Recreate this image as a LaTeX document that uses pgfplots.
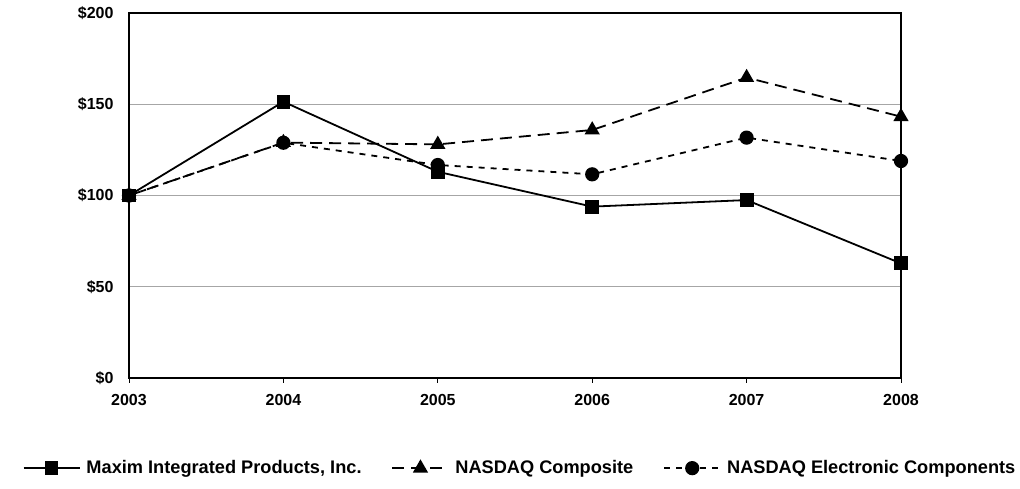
\documentclass[border=0pt]{standalone}
\usepackage{fontspec}
\setmainfont{Liberation Sans}
\usepackage{pgfplots}
\pgfplotsset{compat=1.18}
\begin{document}
\begin{tikzpicture}[x=1pt,y=1pt]
\path[use as bounding box] (0,0) rectangle (1020,489);
\begin{axis}[
  at={(129pt,111pt)}, anchor=south west,
  scale only axis, width=772pt, height=365pt,
  xmin=2003, xmax=2008, ymin=0, ymax=200,
  xtick={2003,2004,2005,2006,2007,2008},
  xticklabels={2003,2004,2005,2006,2007,2008},
  ytick={0,50,100,150,200},
  yticklabels={\$0,\$50,\$100,\$150,\$200},
  ymajorgrids, grid style={gray!70, line width=1.3pt},
  axis line style={line width=1.4pt},
  x tick style={black, line width=1pt}, major tick length=5pt,
  tick align=outside, y tick style={draw=none},
  xtick pos=bottom,
  tick label style={font=\fontsize{16}{18}\selectfont\bfseries},
  yticklabel style={xshift=-7pt},
  xticklabel style={yshift=-8pt},
  clip=false,
  legend columns=3,
  legend style={at={(0.5065,-0.247)}, anchor=center, draw=none,
    font=\fontsize{18.2}{20}\selectfont\bfseries,
    /tikz/every odd column/.append style={column sep=4pt},
    /tikz/every even column/.append style={column sep=28pt}},
  legend image code/.code={\draw[mark repeat=2,mark phase=2,#1] plot coordinates {(0pt,0pt) (28pt,0pt) (56pt,0pt)};},
]
\addplot[black, line width=1.8pt, mark=square*, mark size=6pt, mark options={solid}]
  coordinates {(2003,100) (2004,151.4) (2005,113) (2006,93.9) (2007,97.5) (2008,62.8)};
\addlegendentry{Maxim Integrated Products, Inc.}
\addplot[black, line width=1.8pt, dash pattern=on 12pt off 7pt, mark=triangle*, mark size=7pt, mark options={solid}]
  coordinates {(2003,100) (2004,129) (2005,128) (2006,135.9) (2007,164.6) (2008,143.2)};
\addlegendentry{NASDAQ Composite}
\addplot[black, line width=1.8pt, dash pattern=on 6pt off 6pt, mark=*, mark size=6.2pt, mark options={solid}]
  coordinates {(2003,100) (2004,128.9) (2005,116.7) (2006,111.6) (2007,131.7) (2008,118.9)};
\addlegendentry{NASDAQ Electronic Components}
\end{axis}
\end{tikzpicture}
\end{document}
